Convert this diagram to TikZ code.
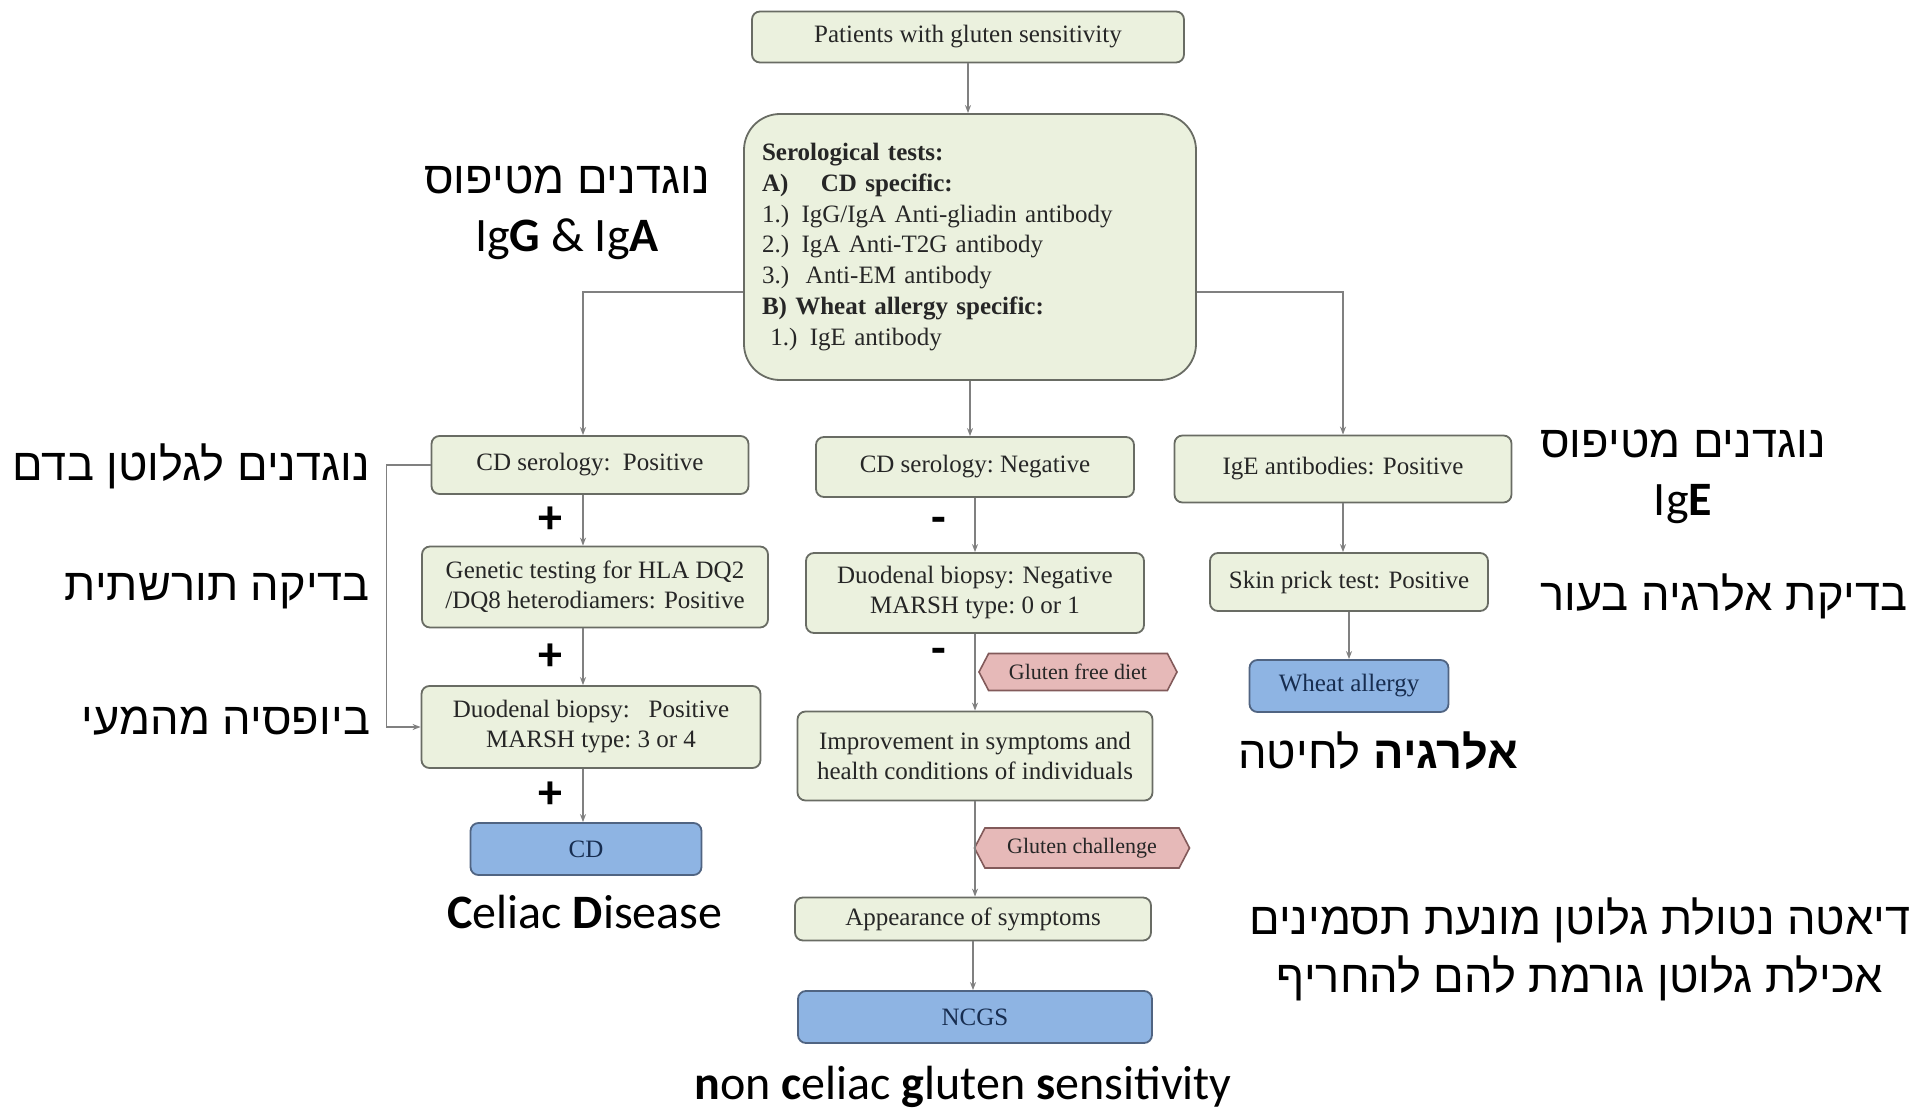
\documentclass[tikz,border=0pt]{standalone}
\usepackage{fontspec}
\setmainfont{Liberation Serif}
\newfontfamily\hebfont[Script=Hebrew]{Liberation Sans}
\newfontfamily\calfont{Carlito}
\TeXXeTstate=1
\usetikzlibrary{arrows.meta,positioning,shapes.symbols}
\definecolor{boxFill}{RGB}{235,241,222}
\definecolor{boxLine}{RGB}{105,108,100}
\definecolor{boxText}{RGB}{38,38,38}
\definecolor{resFill}{RGB}{142,180,227}
\definecolor{resLine}{RGB}{80,100,130}
\definecolor{resText}{RGB}{23,45,80}
\definecolor{tagFill}{RGB}{230,185,184}
\definecolor{tagLine}{RGB}{130,90,90}
\definecolor{arrLine}{RGB}{128,128,128}

\begin{document}
\begin{tikzpicture}[x=0.5pt, y=-0.5pt,
    box/.style={rectangle, rounded corners=4pt, draw=boxLine, fill=boxFill,
                line width=0.9pt, font=\fontsize{12.5}{15}\selectfont,
                text=boxText, align=center, inner sep=2pt},
    res/.style={box, draw=resLine, fill=resFill, text=resText},
    tag/.style={signal, signal to=west and east, signal pointer angle=125,
                draw=tagLine, fill=tagFill, line width=0.8pt,
                font=\fontsize{11}{13}\selectfont, text=boxText, inner sep=1pt},
    arr/.style={-{Stealth[length=4pt,width=3pt]}, draw=arrLine, line width=0.7pt},
    heb/.style={font=\hebfont\fontsize{22.6}{29}\selectfont, align=center},
    lat/.style={font=\calfont\fontsize{24}{29}\selectfont},
    sign/.style={font=\calfont\bfseries\fontsize{24}{24}\selectfont, inner sep=0pt}
  ]
  \useasboundingbox (0,0) rectangle (1924,1113);

  % top of the chart
  \node[box, minimum width=216pt, minimum height=25.5pt] (pat) at (968,37)
    {Patients with gluten sensitivity};
  \node[box, rounded corners=18pt, text width=208pt, inner xsep=9pt,
        minimum height=133pt, align=left,
        font=\fontsize{12.5}{15.35}\selectfont] (sero) at (970,247)
    {\textbf{Serological tests:}\\
     \textbf{A)\hspace{1.3em}CD specific:}\\
     1.) IgG/IgA Anti-gliadin antibody\\
     2.) IgA Anti-T2G antibody\\
     3.)\ \ Anti-EM antibody\\
     \textbf{B) Wheat allergy specific:}\\
     \ 1.) IgE antibody};

  % celiac column
  \node[box, minimum width=158.5pt, minimum height=29pt]  (cdpos) at (590,465) {CD serology:\ \ Positive};
  \node[box, minimum width=173pt, minimum height=40.5pt]  (gen)   at (595,587)
    {Genetic testing for HLA DQ2\\/DQ8 heterodiamers: Positive};
  \node[box, minimum width=169.5pt, minimum height=41pt]  (dpos)  at (591,727)
    {Duodenal biopsy:\ \ \ Positive\\MARSH type:\ 3 or 4};
  \node[res, minimum width=115.5pt, minimum height=26pt]  (cd)    at (586,849) {CD};
  \coordinate (colL) at (583,0);

  % negative column
  \node[box, minimum width=159pt, minimum height=30pt]    (cdneg) at (975,467) {CD serology:\ Negative};
  \node[box, minimum width=169pt, minimum height=40pt]    (dneg)  at (975,593)
    {Duodenal biopsy: Negative\\MARSH type:\ 0 or 1};
  \node[box, minimum width=177.5pt, minimum height=44.5pt] (impr) at (975,756)
    {Improvement in symptoms and\\health conditions of individuals};
  \node[box, minimum width=178pt, minimum height=21.5pt]  (app)   at (973,919) {Appearance of symptoms};
  \node[res, minimum width=177pt, minimum height=26pt]    (ncgs)  at (975,1017) {NCGS};
  \node[tag, minimum width=99pt, minimum height=18.5pt]   (gfd)   at (1078,672) {Gluten free diet};
  \node[tag, minimum width=107.5pt, minimum height=20pt]  (gch)   at (1082,848) {Gluten challenge};

  % wheat allergy column
  \node[box, minimum width=168.5pt, minimum height=33.5pt] (ige)  at (1343,469) {IgE antibodies: Positive};
  \node[box, minimum width=139pt, minimum height=29pt]    (skin)  at (1349,582) {Skin prick test: Positive};
  \node[res, minimum width=99.5pt, minimum height=26pt]   (wheat) at (1349,686) {Wheat allergy};

  % connectors
  \draw[arr] (pat.south) -- (pat.south |- sero.north);
  \draw[arr] (sero.west |- 0,292) -| (colL |- cdpos.north);
  \draw[arr] (sero.east |- 0,292) -| (ige.north);
  \draw[arr] (sero.south) -- (sero.south |- cdneg.north);
  \draw[arr] (colL |- cdpos.south) -- (colL |- gen.north)
    node[sign, midway, left=10pt] {+};
  \draw[arr] (colL |- gen.south) -- (colL |- dpos.north)
    node[sign, midway, left=10pt] {+};
  \draw[arr] (colL |- dpos.south) -- (colL |- cd.north)
    node[sign, midway, left=10pt] {+};
  \draw[arr] (cdpos.west) -- ++(-44,0) |- (dpos.west);
  \draw[arr] (cdneg.south) -- (cdneg.south |- dneg.north)
    node[sign, midway, left=14pt] {-};
  \draw[arr] (dneg.south) -- (dneg.south |- impr.north)
    node[sign, pos=0.3, left=14pt] {-};
  \draw[arr] (impr.south) -- (impr.south |- app.north);
  \draw[arr] (app.south) -- (app.south |- ncgs.north);
  \draw[arr] (ige.south) -- (ige.south |- skin.north);
  \draw[arr] (skin.south) -- (skin.south |- wheat.north);

  % hebrew notes
  \node[heb] (noteIgGA) at (567,213)
    {\beginR נוגדנים מטיפוס\endR\\{\calfont\fontsize{24}{29}\selectfont Ig\textbf{G} \& Ig\textbf{A}}};
  \node[heb, anchor=east] (noteSer) at (377,466) {\beginR נוגדנים לגלוטן בדם\endR};
  \node[heb, anchor=east] (noteGen) at (377,591) {\beginR בדיקה תורשתית\endR};
  \node[heb, anchor=east] (noteBio) at (377,721) {\beginR ביופסיה מהמעי\endR};
  \node[lat] (noteCD) at (585,912) {\textbf{C}eliac \textbf{D}isease};
  \node[lat] (noteNCGS) at (963,1087)
    {\textbf{n}on \textbf{c}eliac \textbf{g}luten \textbf{s}ensitivity};
  \node[heb] (noteIgE) at (1683,477)
    {\beginR נוגדנים מטיפוס\endR\\{\calfont\fontsize{24}{29}\selectfont Ig\textbf{E}}};
  \node[heb] (noteSkin) at (1724,596) {\beginR בדיקת אלרגיה בעור\endR};
  \node[heb] (noteWA) at (1378,751) {\beginR\textbf{אלרגיה} לחיטה\endR};
  \node[heb] (noteDiet) at (1580,949)
    {\beginR דיאטה נטולת גלוטן מונעת תסמינים\endR\\\beginR אכילת גלוטן גורמת להם להחריף\endR};
\end{tikzpicture}
\end{document}
